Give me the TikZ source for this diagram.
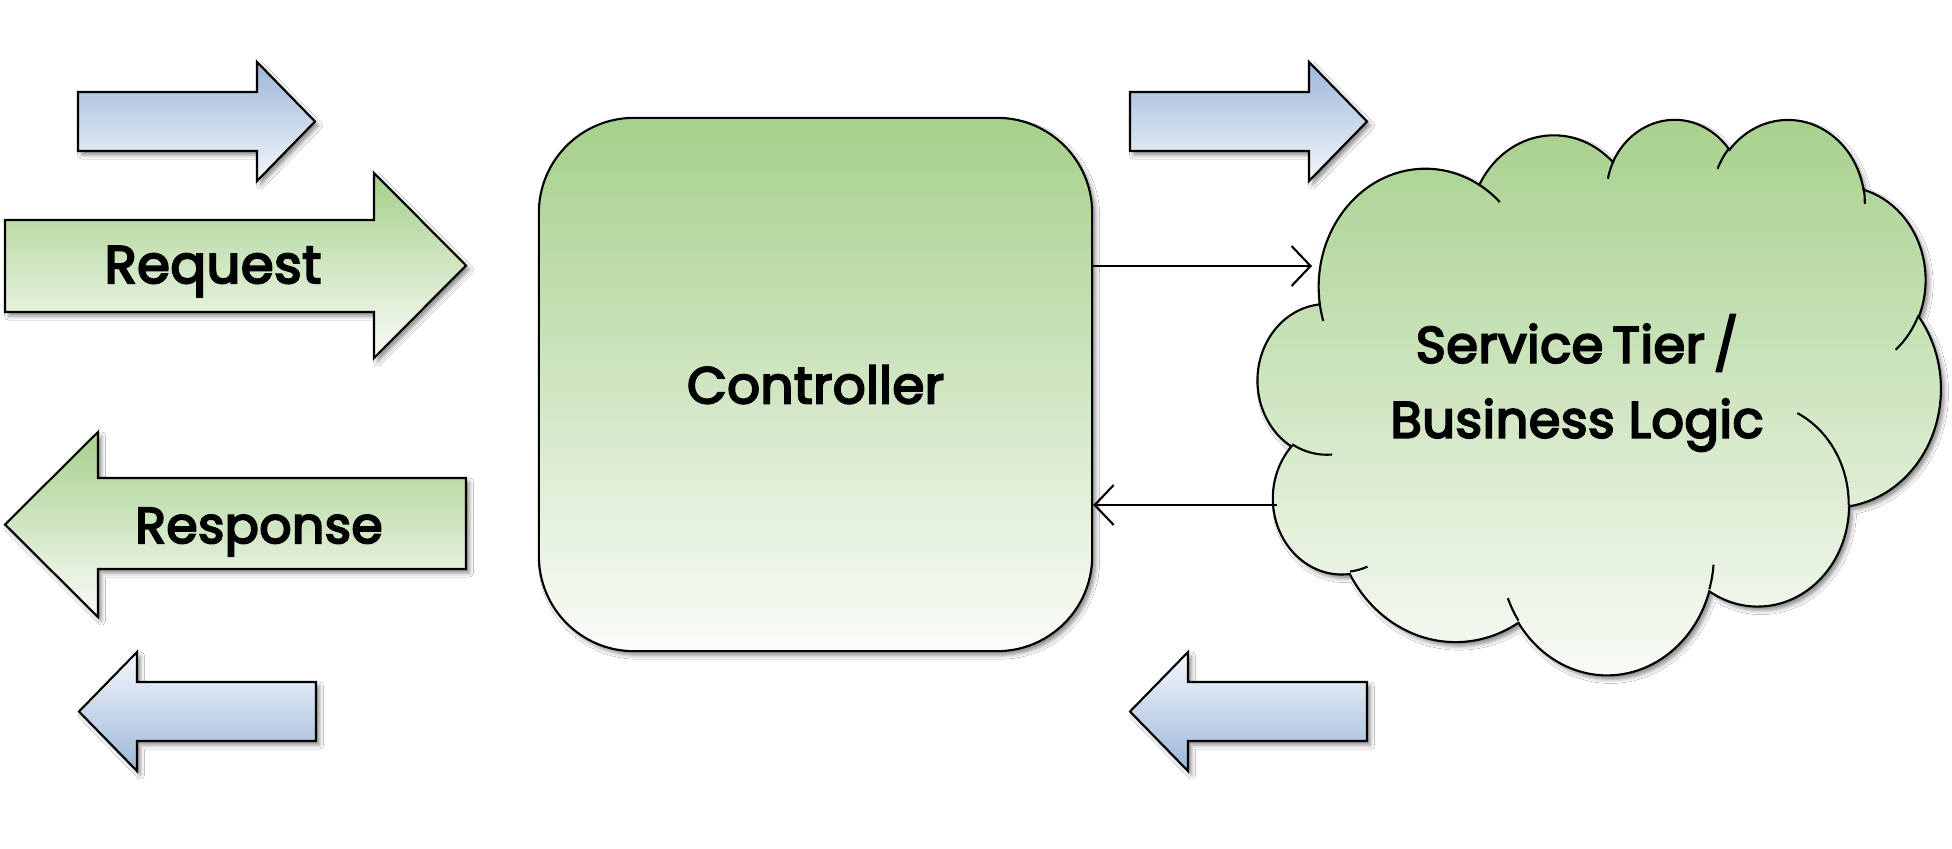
\documentclass[tikz,border=0pt]{standalone}
\usepackage{fontspec}
\setmainfont{Poppins}
\newfontfamily\wordfont{Poppins}[FakeBold=4, LetterSpace=1]
\usetikzlibrary{arrows.meta,shadows.blur}

\definecolor{leafgreen}{HTML}{A6D08B}
\definecolor{palegreen}{HTML}{FAFCF9}
\definecolor{skyblue}{HTML}{9CB7DA}
\definecolor{paleblue}{HTML}{F5F7FB}

\tikzset{
  outline/.style={draw=black, line width=0.6pt, line join=miter},
  softshadow/.style={blur shadow={shadow xshift=0.035cm, shadow yshift=-0.04cm,
      shadow blur radius=0.04cm, shadow opacity=45}},
  greenfill/.style={top color=leafgreen, bottom color=palegreen},
  bluedown/.style={top color=skyblue, bottom color=paleblue},
  blueup/.style={top color=paleblue, bottom color=skyblue},
  wordtext/.style={inner sep=0pt, font=\wordfont\fontsize{15}{18}\selectfont},
  link/.style={line width=0.6pt,
      -{Straight Barb[length=0.19cm, width=0.40cm, line width=0.6pt]}},
  inner arc/.style={draw=black, line width=0.6pt},
  declare function={ooang(\a,\w,\h)=\a+mod(atan2(\w*sin(\a),\h*cos(\a))-\a+540,360)-180;},
}

\begin{document}
\begin{tikzpicture}[x=0.01cm, y=-0.01cm]
\useasboundingbox (0,0) rectangle (1952,848);
\fill[white] (0,0) rectangle (1952,848);

% small blue arrows
\path[outline, bluedown, softshadow]
  (78,92) -- (257,92) -- (257,62) -- (315,121.5) -- (257,181) -- (257,151) -- (78,151) -- cycle;
\path[outline, blueup, softshadow]
  (79,711.5) -- (137,652) -- (137,682) -- (316,682) -- (316,741) -- (137,741) -- (137,771) -- cycle;
\path[outline, bluedown, softshadow]
  (1130,92) -- (1309,92) -- (1309,62) -- (1367,121.5) -- (1309,181) -- (1309,151) -- (1130,151) -- cycle;
\path[outline, blueup, softshadow]
  (1130,711.5) -- (1188,652) -- (1188,682) -- (1367,682) -- (1367,741) -- (1188,741) -- (1188,771) -- cycle;

% request / response arrows
\path[outline, greenfill, softshadow]
  (5,220) -- (374,220) -- (374,173) -- (466,265.5) -- (374,358) -- (374,312) -- (5,312) -- cycle;
\path[outline, greenfill, softshadow]
  (5,524.5) -- (98,432) -- (98,478) -- (466,478) -- (466,569) -- (98,569) -- (98,617) -- cycle;
\node[wordtext, anchor=base] (request) at (213,283) {Request};
\node[wordtext, anchor=base, font=\wordfont\fontsize{14.3}{18}\selectfont] (response) at (259,543) {Response};

% controller
\node[outline, greenfill, softshadow, rounded corners=0.95cm,
      minimum width=5.53cm, minimum height=5.33cm, inner sep=0pt,
      font=\wordfont\fontsize{14.6}{20}\selectfont] (ctrl) at (815.5,384.5) {Controller};

% service tier cloud
\begin{scope}[shift={(1258,118)}, x=0.015787cm, y=-0.012847cm]
  \path[outline, greenfill, softshadow] (39.00,143.70)
    arc[start angle={ooang(-190.48748,67.53,91.90)}, end angle={ooang(-66.70695,67.53,91.90)}, x radius=67.53, y radius=91.90]
    arc[start angle={ooang(-144.10238,53.33,72.67)}, end angle={ooang(-54.15715,53.33,72.67)}, x radius=53.33, y radius=72.67]
    arc[start angle={ooang(-145.80792,43.65,59.45)}, end angle={ooang(-46.08490,43.65,59.45)}, x radius=43.65, y radius=59.45]
    arc[start angle={ooang(-130.98607,48.57,65.95)}, end angle={ooang(-13.74434,48.57,65.95)}, x radius=48.57, y radius=65.95]
    arc[start angle={ooang(-78.70888,53.33,72.73)}, end angle={ooang(30.31804,53.33,72.73)}, x radius=53.33, y radius=72.73]
    arc[start angle={ooang(-46.26725,67.75,92.20)}, end angle={ooang(84.00175,67.75,92.20)}, x radius=67.75, y radius=92.20]
    arc[start angle={ooang(0.62502,57.85,78.67)}, end angle={ooang(114.65835,57.85,78.67)}, x radius=57.85, y radius=78.67]
    arc[start angle={ooang(22.45160,67.52,92.15)}, end angle={ooang(137.62415,67.52,92.15)}, x radius=67.52, y radius=92.15]
    arc[start angle={ooang(66.24263,77.20,105.43)}, end angle={ooang(141.95365,77.20,105.43)}, x radius=77.20, y radius=105.43]
    arc[start angle={ooang(-274.94208,43.60,59.18)}, end angle={ooang(-128.20651,43.60,59.18)}, x radius=43.60, y radius=59.18]
    arc[start angle={ooang(-246.82850,43.45,59.45)}, end angle={ooang(-94.30965,43.45,59.45)}, x radius=43.45, y radius=59.45]
    -- cycle;
  % inner fold lines of the cloud
  \draw[inner arc] (46.93,261.77) arc[start angle={ooang(86.742,43.45,59.45)}, end angle={ooang(113.1715,43.45,59.45)}, x radius=43.45, y radius=59.45];
  \draw[inner arc] (69.28,348.99) arc[start angle={ooang(73.61047,43.60,59.18)}, end angle={ooang(85.05794,43.60,59.18)}, x radius=43.60, y radius=59.18];
  \draw[inner arc] (164.78,390.90) arc[start angle={ooang(137.62415,67.52,92.15)}, end angle={ooang(151.70525,67.52,92.15)}, x radius=67.52, y radius=92.15];
  \draw[inner arc] (288.27,347.51) arc[start angle={ooang(6.45327,67.52,92.15)}, end angle={ooang(22.45162,67.52,92.15)}, x radius=67.52, y radius=92.15];
  \draw[inner arc] (341.29,229.54) arc[start angle={ooang(-70.29235,57.85,78.67)}, end angle={ooang(0.62502,57.85,78.67)}, x radius=57.85, y radius=78.67];
  \draw[inner arc] (417.98,153.54) arc[start angle={ooang(30.31803,53.33,72.73)}, end angle={ooang(58.06953,53.33,72.73)}, x radius=53.33, y radius=72.73];
  \draw[inner arc] (383.24,54.26) arc[start angle={ooang(-13.74433,48.57,65.95)}, end angle={ooang(1.11457,48.57,65.95)}, x radius=48.57, y radius=65.95];
  \draw[inner arc] (290.78,39.52) arc[start angle={ooang(-149.18145,48.57,65.95)}, end angle={ooang(-130.98608,48.57,65.95)}, x radius=48.57, y radius=65.95];
  \draw[inner arc] (221.41,47.20) arc[start angle={ooang(-163.49427,43.65,59.45)}, end angle={ooang(-145.80792,43.65,59.45)}, x radius=43.65, y radius=59.45];
  \draw[inner arc] (140.00,51.92) arc[start angle={ooang(-66.70695,67.53,91.90)}, end angle={ooang(-54.3876,67.53,91.90)}, x radius=67.53, y radius=91.90];
  \draw[inner arc] (41.27,157.89) arc[start angle={ooang(157.65435,67.53,91.90)}, end angle={ooang(169.51252,67.53,91.90)}, x radius=67.53, y radius=91.90];
\end{scope}
\node[inner sep=0pt, align=center, font=\wordfont\fontsize{14.5}{21.3}\selectfont]
  (svc) at (1577,383) {\spaceskip=0.18em\relax Service Tier /\\Business Logic};

% links between controller and service tier
\coordinate (svcIn) at (1312,266);
\coordinate (svcOut) at (1277,505);
\draw[link] (ctrl.east |- svcIn) -- (svcIn);
\draw[link] (svcOut) -- (ctrl.east |- svcOut);
\end{tikzpicture}
\end{document}
